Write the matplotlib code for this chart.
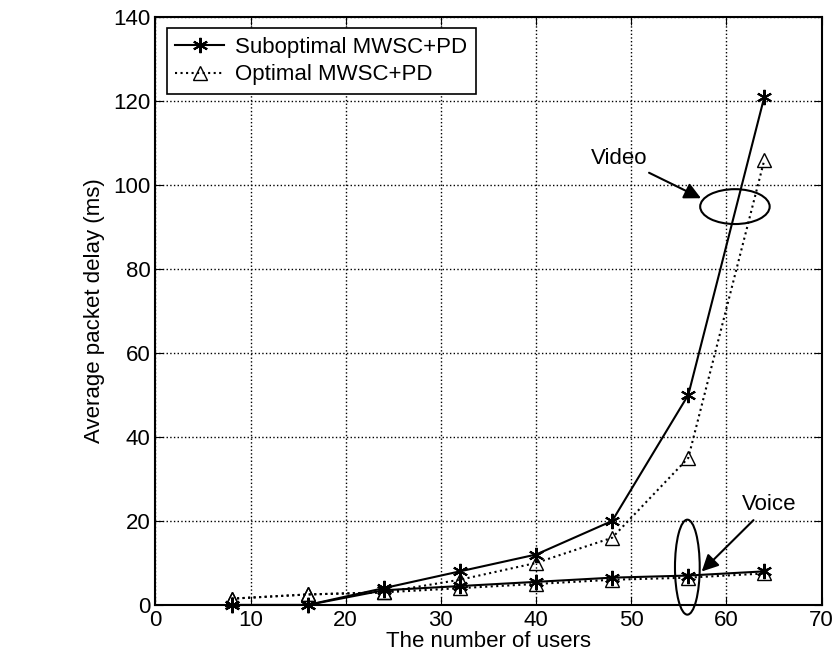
import numpy as np
import matplotlib.pyplot as plt
from matplotlib.patches import Ellipse

plt.rcParams['font.family'] = ['Liberation Sans', 'DejaVu Sans']

users = [8, 16, 24, 32, 40, 48, 56, 64]
video_sub = [0, 0, 4, 8, 12, 20, 50, 121]
video_opt = [1.5, 2.5, 3, 6, 10, 16, 35, 106]
voice_sub = [0, 0, 3.5, 4.5, 5.5, 6.5, 7, 8]
voice_opt = [1.5, 2.5, 3, 4, 5, 6, 6.5, 7.5]

fig = plt.figure(figsize=(8.4, 6.67), dpi=100)
ax = fig.add_axes([0.185, 0.093, 0.793, 0.882])

ast = (6, 2, 0)
ax.plot(users, video_sub, 'k-', marker=ast, ms=11, mew=1.5, lw=1.5,
        label='Suboptimal MWSC+PD', clip_on=False)
ax.plot(users, video_opt, 'k:', marker='^', ms=10, mfc='none', lw=1.5,
        label='Optimal MWSC+PD', clip_on=False)
ax.plot(users, voice_sub, 'k-', marker=ast, ms=11, mew=1.5, lw=1.5, clip_on=False)
ax.plot(users, voice_opt, 'k:', marker='^', ms=10, mfc='none', lw=1.5, clip_on=False)

# annotations
ax.add_patch(Ellipse((60.9, 94.8), 7.3, 8.3, fill=False, ec='k', lw=1.5, clip_on=False))
ax.add_patch(Ellipse((55.9, 9), 2.6, 22.6, fill=False, ec='k', lw=1.5, clip_on=False))
ax.annotate('Video', xy=(57.6, 96.5), xytext=(45.8, 105), fontsize=16,
            arrowprops=dict(arrowstyle='-|>', color='k', lw=1.5, mutation_scale=25))
ax.annotate('Voice', xy=(57.2, 7.5), xytext=(61.6, 22.5), fontsize=16,
            arrowprops=dict(arrowstyle='-|>', color='k', lw=1.5, mutation_scale=25,
                            shrinkA=2))

ax.set_xlim(0, 70)
ax.set_ylim(0, 140)
ax.set_xticks(np.arange(0, 71, 10))
ax.set_yticks(np.arange(0, 141, 20))
ax.grid(True, linestyle=':', color='k', lw=1)
ax.tick_params(labelsize=16, direction='in', top=True, right=True, length=6)
ax.set_xlabel('The number of users', fontsize=16, labelpad=0)
ax.set_ylabel('Average packet delay (ms)', fontsize=16, labelpad=6)
for s in ax.spines.values():
    s.set_linewidth(1.5)

leg = ax.legend(loc='upper left', fontsize=16, fancybox=False, edgecolor='k',
                framealpha=1, handlelength=2.2, handletextpad=0.5,
                borderpad=0.4, labelspacing=0.3)
leg.get_frame().set_linewidth(1.2)

fig.savefig('out.png', dpi=100)
